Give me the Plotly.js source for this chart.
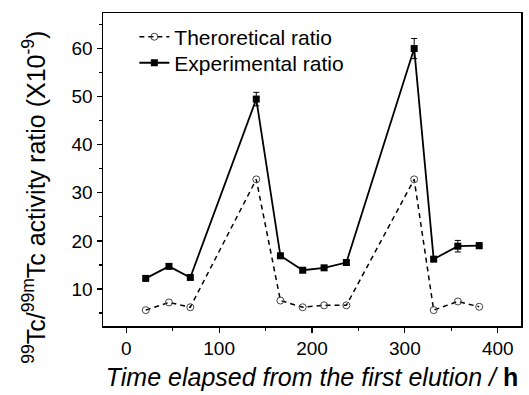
<!DOCTYPE html>
<html>
<head>
<meta charset="utf-8">
<script src="https://cdn.plot.ly/plotly-3.0.1.min.js"></script>
<style>html,body{margin:0;padding:0;background:#fff;}#chart{width:529px;height:395px;}</style>
</head>
<body>
<div id="chart"></div>
<script>
// Data
const timeHours = [21, 46, 69, 140, 166, 190, 213, 237, 310, 331, 357, 380];
const theoreticalRatio = [5.6, 7.2, 6.2, 32.8, 7.6, 6.2, 6.6, 6.6, 32.8, 5.6, 7.4, 6.3];
const experimentalRatio = [12.2, 14.7, 12.4, 49.5, 16.9, 13.9, 14.4, 15.5, 60.0, 16.2, 18.9, 19.0];
const experimentalError = [0.4, 0.4, 0.4, 1.4, 0.4, 0.4, 0.4, 0.4, 2.1, 0.4, 1.2, 0.6];
const seriesNames = ["Theroretical ratio", "Experimental ratio"];
const xTicks = [0, 100, 200, 300, 400];
const yTicks = [10, 20, 30, 40, 50, 60];
const xTitle = "<i>Time elapsed from the first elution / </i><b>h</b>";
const yTitle = "<sup>99</sup>Tc/<sup>99m</sup>Tc activity ratio (X10<sup>-9</sup>)";

const font = "Liberation Sans, Arial, sans-serif";

const traces = [
  {
    x: timeHours, y: theoreticalRatio, name: seriesNames[0], legend: "legend",
    type: "scatter", mode: "lines+markers",
    line: {color: "#000", width: 1.5, dash: "5px,4px"},
    marker: {symbol: "circle-open", size: 7, color: "#444", line: {width: 1}}
  },
  {
    x: timeHours, y: experimentalRatio, name: seriesNames[1], legend: "legend2",
    type: "scatter", mode: "lines+markers",
    line: {color: "#000", width: 1.8},
    marker: {symbol: "square", size: 7, color: "#000"},
    error_y: {type: "data", array: experimentalError, visible: true, color: "#000", thickness: 1, width: 3}
  }
];

const legendBase = {
  xanchor: "left", yanchor: "middle",
  bgcolor: "rgba(0,0,0,0)", borderwidth: 0,
  font: {family: font, size: 21, color: "#000"}
};

const layout = {
  width: 529, height: 395,
  margin: {l: 103, r: 8, t: 13, b: 69},
  paper_bgcolor: "#fff", plot_bgcolor: "#fff",
  font: {family: font, color: "#000", size: 18},
  showlegend: true,
  legend: Object.assign({}, legendBase, {x: 0.075, y: 0.923}),
  legend2: Object.assign({}, legendBase, {x: 0.075, y: 0.84}),
  xaxis: {
    range: [-25, 425],
    tickvals: xTicks, ticktext: xTicks.map(String),
    ticks: "outside", ticklen: 5, tickwidth: 1.2, tickcolor: "#000",
    minor: {dtick: 50, tick0: 0, ticks: "outside", ticklen: 3, tickcolor: "#000", showgrid: false},
    showline: true, linecolor: "#000", linewidth: 1.5, mirror: true,
    showgrid: false, zeroline: false,
    tickfont: {family: font, size: 19},
    title: {text: xTitle, font: {family: font, size: 25}, standoff: 10}
  },
  yaxis: {
    range: [2.3, 67.4],
    tickvals: yTicks, ticktext: yTicks.map(String),
    ticks: "outside", ticklen: 5, tickwidth: 1.2, tickcolor: "#000",
    minor: {dtick: 5, tick0: 0, ticks: "outside", ticklen: 3, tickcolor: "#000", showgrid: false},
    showline: true, linecolor: "#000", linewidth: 1.5, mirror: true,
    showgrid: false, zeroline: false,
    tickfont: {family: font, size: 19}
  },
  annotations: [{
    text: yTitle, xref: "paper", yref: "paper",
    x: -0.165, y: 0.41, xanchor: "center", yanchor: "middle",
    textangle: -90, showarrow: false,
    font: {family: font, size: 25, color: "#000"}
  }]
};

Plotly.newPlot("chart", traces, layout, {displayModeBar: false, staticPlot: true});
</script>
</body>
</html>
